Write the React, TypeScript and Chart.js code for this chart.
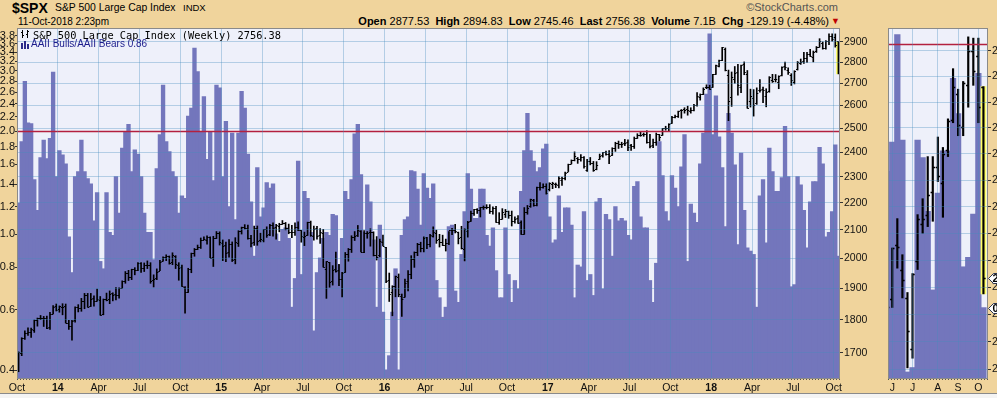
import React, { useEffect, useRef } from "react";
import { Chart, registerables } from "chart.js";

Chart.register(...registerables);

// ---------------- DATA ----------------
// weekly bars, first bar = week of Monday 2013-10-07
const START_MONDAY = "2013-10-07";

// AAII Bulls / AAII Bears ratio (weekly)
const ratio: number[] = [
  1.23, 1.86, 2.79, 2.11, 2.10, 1.44, 1.17, 1.67, 1.88, 1.66,
  1.90, 2.97, 1.47, 1.75, 1.70, 1.60, 0.98, 0.77, 1.47, 1.52,
  1.88, 1.52, 1.45, 1.40, 1.09, 1.32, 0.83, 0.79, 1.32, 1.01,
  0.99, 1.47, 1.15, 1.78, 1.99, 2.09, 1.52, 1.76, 1.71, 1.47,
  1.15, 1.01, 1.01, 0.84, 1.55, 1.95, 2.72, 1.86, 1.74, 1.52,
  1.47, 1.15, 1.29, 1.27, 2.21, 2.33, 3.49, 2.98, 1.99, 2.52,
  1.65, 1.99, 1.43, 2.72, 2.67, 1.47, 2.13, 1.20, 1.97, 1.10,
  1.97, 2.61, 2.33, 1.71, 1.24, 0.86, 1.56, 1.12, 1.19, 1.41,
  1.36, 1.40, 1.00, 0.95, 1.03, 1.04, 0.97, 0.61, 0.74, 1.63,
  0.76, 1.33, 1.27, 1.01, 0.52, 0.77, 0.85, 0.97, 1.01, 0.99,
  1.14, 1.13, 0.81, 0.97, 1.33, 1.26, 1.44, 1.96, 2.09, 1.49,
  1.01, 1.39, 1.24, 0.96, 0.61, 1.06, 0.59, 0.40, 0.44, 0.59,
  0.79, 0.40, 0.99, 1.10, 1.12, 1.53, 1.52, 1.35, 1.06, 1.50,
  1.36, 1.27, 1.40, 0.73, 0.65, 0.57, 0.61, 1.05, 1.06, 0.68,
  0.63, 0.87, 1.16, 1.50, 1.35, 1.11, 1.11, 1.35, 1.35, 0.99,
  0.92, 1.04, 0.78, 0.65, 0.65, 1.04, 0.76, 0.63, 0.73, 0.69,
  1.33, 1.75, 2.25, 1.75, 1.63, 1.52, 1.56, 1.77, 1.83, 1.12,
  0.94, 0.96, 1.29, 1.01, 1.19, 1.19, 1.06, 0.65, 0.81, 0.80,
  1.16, 0.73, 0.76, 0.66, 1.24, 1.27, 0.69, 1.14, 1.10, 0.86,
  1.20, 1.09, 1.11, 1.09, 0.99, 0.96, 1.375, 1.42, 1.12, 1.04,
  1.04, 0.73, 0.63, 0.82, 1.86, 1.48, 1.16, 1.09, 1.48, 1.36,
  1.20, 1.57, 1.95, 0.83, 1.22, 1.15, 1.08, 1.60, 1.97, 2.56,
  3.84, 1.95, 2.53, 1.92, 1.56, 1.05, 2.25, 1.97, 1.59, 0.93,
  1.72, 1.17, 0.91, 0.89, 0.87, 0.61, 1.29, 1.44, 0.94, 1.78,
  1.52, 1.33, 1.33, 1.46, 2.06, 1.47, 0.70, 0.71, 1.47, 1.39,
  1.17, 0.91, 1.24, 1.42, 1.42, 1.79, 1.60, 0.98, 1.01, 1.16,
  1.82, 0.86,
];

// S&P 500 weekly OHLC
const spxOpen: number[] = [
  1687, 1700, 1745, 1759, 1763, 1769, 1798, 1804, 1806, 1806,
  1776, 1819, 1842, 1832, 1841, 1842, 1791, 1782, 1798, 1838,
  1836, 1857, 1878, 1842, 1867, 1858, 1863, 1816, 1865, 1864,
  1884, 1880, 1878, 1902, 1924, 1950, 1937, 1962, 1960, 1984,
  1967, 1977, 1978, 1926, 1934, 1958, 1991, 2004, 2007, 1986,
  2009, 1978, 1970, 1905, 1886, 1962, 2019, 2032, 2039, 2065,
  2065, 2074, 2005, 2070, 2088, 2054, 2046, 2020, 2050, 1996,
  2053, 2096, 2109, 2105, 2072, 2055, 2108, 2065, 2065, 2102,
  2084, 2119, 2110, 2115, 2122, 2125, 2108, 2093, 2091, 2112,
  2098, 2074, 2080, 2127, 2078, 2105, 2080, 2090, 1965, 1986,
  1923, 1963, 1960, 1929, 1954, 2015, 2033, 2076, 2080, 2097,
  2023, 2090, 2091, 2091, 2013, 2010, 2058, 2038, 1927, 1889,
  1906, 1937, 1873, 1871, 1924, 1946, 1996, 2020, 2049, 2037,
  2073, 2050, 2078, 2090, 2067, 2057, 2046, 2052, 2100, 2100,
  2092, 2075, 2031, 2096, 2131, 2162, 2175, 2173, 2183, 2184,
  2183, 2170, 2181, 2128, 2140, 2158, 2168, 2154, 2133, 2142,
  2129, 2086, 2165, 2187, 2210, 2191, 2259, 2260, 2263, 2251,
  2273, 2272, 2267, 2286, 2295, 2321, 2352, 2367, 2375, 2372,
  2379, 2329, 2362, 2357, 2332, 2370, 2388, 2399, 2393, 2387,
  2415, 2437, 2432, 2437, 2440, 2431, 2424, 2459, 2473, 2475,
  2476, 2441, 2428, 2442, 2474, 2470, 2500, 2503, 2521, 2551,
  2555, 2578, 2584, 2584, 2576, 2579, 2603, 2639, 2653, 2685,
  2684, 2684, 2745, 2784, 2809, 2867, 2741, 2636, 2722, 2754,
  2682, 2790, 2746, 2619, 2633, 2611, 2670, 2675, 2643, 2665,
  2718, 2723, 2706, 2741, 2781, 2763, 2742, 2705, 2769, 2797,
  2804, 2821, 2840, 2828, 2853, 2876, 2896, 2871, 2903, 2930,
  2926, 2902,
];
const spxHigh: number[] = [
  1703, 1745, 1766, 1775, 1774, 1799, 1805, 1813, 1810, 1811,
  1823, 1844, 1849, 1843, 1850, 1849, 1798, 1798, 1840, 1847,
  1867, 1883, 1883, 1883, 1875, 1897, 1873, 1865, 1884, 1891,
  1885, 1902, 1901, 1924, 1955, 1959, 1963, 1968, 1985, 1985,
  1984, 1991, 1985, 1944, 1964, 1993, 2005, 2012, 2008, 2019,
  2009, 1985, 1977, 1905, 1966, 2018, 2034, 2046, 2071, 2075,
  2079, 2075, 2077, 2094, 2093, 2064, 2056, 2065, 2057, 2072,
  2097, 2110, 2119, 2117, 2080, 2114, 2114, 2088, 2102, 2111,
  2120, 2126, 2120, 2124, 2134, 2127, 2121, 2116, 2126, 2129,
  2098, 2092, 2128, 2132, 2114, 2113, 2105, 2102, 1989, 1986,
  1975, 2021, 1979, 1952, 2020, 2034, 2079, 2094, 2116, 2097,
  2097, 2094, 2104, 2093, 2076, 2067, 2081, 2038, 1950, 1908,
  1940, 1947, 1881, 1930, 1958, 2009, 2022, 2052, 2056, 2075,
  2073, 2084, 2111, 2099, 2084, 2081, 2067, 2094, 2106, 2120,
  2092, 2113, 2104, 2131, 2169, 2175, 2178, 2183, 2188, 2193,
  2193, 2185, 2187, 2163, 2178, 2175, 2169, 2169, 2148, 2152,
  2133, 2182, 2190, 2214, 2213, 2260, 2278, 2273, 2273, 2277,
  2279, 2276, 2301, 2299, 2319, 2351, 2368, 2401, 2378, 2390,
  2382, 2370, 2378, 2362, 2361, 2392, 2399, 2404, 2406, 2418,
  2441, 2446, 2441, 2453, 2451, 2432, 2463, 2477, 2484, 2480,
  2490, 2474, 2454, 2480, 2474, 2500, 2509, 2520, 2552, 2557,
  2575, 2582, 2590, 2597, 2590, 2605, 2658, 2652, 2680, 2694,
  2692, 2743, 2787, 2811, 2873, 2870, 2763, 2754, 2780, 2790,
  2787, 2802, 2761, 2674, 2672, 2680, 2718, 2683, 2676, 2732,
  2743, 2742, 2736, 2779, 2801, 2774, 2746, 2760, 2804, 2816,
  2848, 2848, 2863, 2855, 2877, 2916, 2900, 2906, 2941, 2940,
  2940, 2902,
];
const spxLow: number[] = [
  1646, 1692, 1740, 1752, 1746, 1761, 1780, 1800, 1779, 1772,
  1770, 1818, 1827, 1823, 1815, 1790, 1770, 1738, 1792, 1824,
  1826, 1834, 1839, 1841, 1842, 1858, 1814, 1815, 1859, 1850,
  1859, 1862, 1868, 1900, 1916, 1925, 1928, 1944, 1958, 1952,
  1955, 1965, 1916, 1904, 1928, 1958, 1990, 1992, 1980, 1978,
  1965, 1926, 1906, 1820, 1886, 1951, 2007, 2030, 2034, 2064,
  2049, 2002, 1972, 2069, 2046, 1992, 1988, 2004, 1989, 1981,
  2041, 2085, 2103, 2067, 2039, 2045, 2045, 2057, 2057, 2073,
  2079, 2077, 2067, 2093, 2120, 2100, 2086, 2072, 2080, 2097,
  2056, 2044, 2080, 2077, 2063, 2067, 2052, 1970, 1867, 1903,
  1910, 1953, 1908, 1872, 1952, 1990, 2020, 2062, 2076, 2022,
  2019, 2070, 2042, 2008, 1994, 2005, 2043, 1918, 1857, 1812,
  1872, 1872, 1810, 1871, 1891, 1931, 1969, 2009, 2022, 2022,
  2033, 2039, 2074, 2052, 2039, 2044, 2025, 2047, 2083, 2089,
  2050, 2032, 1991, 2074, 2131, 2153, 2160, 2147, 2175, 2177,
  2160, 2157, 2127, 2120, 2139, 2145, 2142, 2114, 2124, 2123,
  2084, 2084, 2157, 2183, 2187, 2188, 2248, 2256, 2233, 2245,
  2254, 2258, 2257, 2267, 2288, 2321, 2352, 2364, 2354, 2363,
  2335, 2322, 2348, 2322, 2328, 2370, 2379, 2387, 2353, 2386,
  2403, 2415, 2419, 2427, 2406, 2407, 2415, 2457, 2466, 2466,
  2437, 2417, 2418, 2428, 2447, 2470, 2492, 2488, 2521, 2545,
  2547, 2544, 2566, 2557, 2566, 2576, 2597, 2624, 2649, 2676,
  2673, 2682, 2743, 2778, 2808, 2759, 2533, 2596, 2701, 2647,
  2658, 2741, 2588, 2593, 2553, 2605, 2660, 2613, 2594, 2660,
  2705, 2707, 2676, 2735, 2764, 2742, 2691, 2698, 2763, 2790,
  2795, 2799, 2829, 2802, 2848, 2874, 2864, 2864, 2886, 2903,
  2874, 2745,
];
const spxClose: number[] = [
  1703, 1744, 1759, 1762, 1770, 1798, 1804, 1806, 1805, 1775,
  1818, 1841, 1831, 1842, 1838, 1790, 1782, 1797, 1838, 1836,
  1859, 1878, 1841, 1866, 1857, 1865, 1815, 1864, 1863, 1881,
  1878, 1878, 1900, 1924, 1950, 1937, 1963, 1961, 1985, 1968,
  1978, 1978, 1925, 1931, 1955, 1988, 2003, 2007, 1985, 2010,
  1982, 1968, 1906, 1887, 1964, 2018, 2032, 2039, 2063, 2068,
  2075, 2002, 2070, 2088, 2058, 2044, 2019, 2051, 1995, 2055,
  2097, 2110, 2105, 2071, 2053, 2108, 2061, 2067, 2102, 2081,
  2117, 2108, 2116, 2122, 2126, 2107, 2092, 2094, 2110, 2101,
  2077, 2077, 2127, 2080, 2104, 2078, 2092, 1971, 1989, 1921,
  1961, 1958, 1931, 1951, 2014, 2033, 2075, 2079, 2099, 2023,
  2089, 2090, 2092, 2012, 2006, 2061, 2044, 1922, 1880, 1907,
  1940, 1880, 1865, 1918, 1948, 1999, 2022, 2049, 2035, 2072,
  2048, 2080, 2091, 2065, 2057, 2047, 2053, 2099, 2099, 2096,
  2071, 2037, 2103, 2130, 2162, 2175, 2173, 2183, 2184, 2184,
  2169, 2180, 2128, 2139, 2165, 2168, 2153, 2133, 2141, 2126,
  2085, 2164, 2182, 2213, 2192, 2260, 2259, 2263, 2239, 2277,
  2275, 2271, 2295, 2297, 2316, 2351, 2367, 2383, 2373, 2378,
  2344, 2363, 2355, 2329, 2349, 2384, 2399, 2391, 2382, 2416,
  2439, 2432, 2433, 2438, 2423, 2425, 2459, 2472, 2472, 2476,
  2441, 2426, 2443, 2477, 2461, 2500, 2502, 2519, 2549, 2553,
  2575, 2581, 2582, 2582, 2578, 2602, 2642, 2652, 2676, 2684,
  2674, 2743, 2786, 2810, 2873, 2762, 2620, 2732, 2747, 2691,
  2786, 2752, 2588, 2641, 2604, 2656, 2670, 2670, 2663, 2728,
  2713, 2721, 2735, 2779, 2780, 2755, 2718, 2760, 2801, 2801,
  2819, 2840, 2833, 2850, 2875, 2902, 2872, 2905, 2930, 2914,
  2886, 2756.38,
];

// axis ticks / labels
const mainTickMonths = [
  "2013-10", "2014-01", "2014-04", "2014-07", "2014-10", "2015-01", "2015-04",
  "2015-07", "2015-10", "2016-01", "2016-04", "2016-07", "2016-10", "2017-01",
  "2017-04", "2017-07", "2017-10", "2018-01", "2018-04", "2018-07", "2018-10",
];
const mainTickLabels = [
  "Oct", "14", "Apr", "Jul", "Oct", "15", "Apr", "Jul", "Oct", "16", "Apr",
  "Jul", "Oct", "17", "Apr", "Jul", "Oct", "18", "Apr", "Jul", "Oct",
];
const panelTickMonths = ["2018-06", "2018-07", "2018-08", "2018-09", "2018-10"];
const panelTickLabels = ["J", "J", "A", "S", "O"];
const ratioTicks = [0.4, 0.6, 0.8, 1.0, 1.2, 1.4, 1.6, 1.8, 2.0, 2.2, 2.4, 2.6, 2.8, 3.0, 3.2, 3.4, 3.6, 3.8];
const spxTicks = [1700, 1800, 1900, 2000, 2100, 2200, 2300, 2400, 2500, 2600, 2700, 2800, 2900];
const panelSpxTicks = [
  2690, 2700, 2710, 2720, 2730, 2740, 2750, 2760, 2770, 2780, 2790, 2800, 2810,
  2820, 2830, 2840, 2850, 2860, 2870, 2880, 2890, 2900, 2910, 2920, 2930, 2940,
];
const REF_LEVEL = 2.0;

// view ranges
const MAIN_RATIO_RANGE = [0.3767, 4.003];
const MAIN_SPX_RANGE = [1625.6, 2970];
const PANEL_X_RANGE = [242.16, 261.9];
const PANEL_RATIO_RANGE = [0.685, 2.105];
const PANEL_SPX_RANGE = [2683, 2948];

// ---------------- STYLE ----------------
const FONT = '"Liberation Sans", Arial, sans-serif';
const TAN = "#F0D49C";
const PLOT_BG = "#EEF0FA";
const BAR = "#7376BC";
const GRID = "rgba(70,140,190,0.35)";
const RED = "#B3203F";
const YELLOW = "#FFFF66";

const WEEK_MS = 7 * 864e5;
const startMs = Date.parse(START_MONDAY + "T00:00:00Z");
const firstWeekOfMonth = (ym: string) =>
  Math.ceil((Date.parse(ym + "-01T00:00:00Z") - startMs) / WEEK_MS);

function buildDatasets(hlThickness: number, highlightWidth: number) {
  const last = ratio.length - 1;
  return [
    {
      type: "bar",
      label: "AAII Bulls/AAII Bears",
      data: ratio.map((v, i) => ({ x: i, y: v })),
      yAxisID: "y",
      backgroundColor: BAR,
      borderWidth: 0,
      inflateAmount: 0.6,
      barPercentage: 1,
      categoryPercentage: 1,
      grouped: false,
      order: 3,
      clip: 0,
    },
    {
      type: "bar",
      label: "last week",
      data: [{ x: last, y: [spxLow[last], spxHigh[last]] }],
      yAxisID: "y2",
      backgroundColor: YELLOW,
      barThickness: highlightWidth,
      grouped: false,
      order: 2,
      clip: 0,
    },
    {
      type: "bar",
      label: "S&P 500 Large Cap Index (Weekly)",
      data: spxClose.map((_, i) => ({ x: i, y: [spxLow[i], spxHigh[i]] })),
      yAxisID: "y2",
      backgroundColor: "#000",
      barThickness: hlThickness,
      grouped: false,
      order: 1,
      clip: 0,
    },
  ];
}

function makeOverlay(tickLen: number, lw: number, withTags: boolean) {
  return {
    id: "overlay",
    beforeDraw(chart: any) {
      const { ctx, chartArea: a } = chart;
      ctx.save();
      ctx.fillStyle = PLOT_BG;
      ctx.fillRect(a.left, a.top, a.right - a.left, a.bottom - a.top);
      ctx.restore();
    },
    afterDatasetsDraw(chart: any) {
      const { ctx, chartArea: a, scales } = chart;
      const xs = scales.x, yr = scales.y, ys = scales.y2;
      ctx.save();
      ctx.beginPath();
      ctx.rect(a.left, a.top, a.right - a.left, a.bottom - a.top);
      ctx.clip();
      // reference line
      const yRef = Math.round(yr.getPixelForValue(REF_LEVEL)) + 0.5;
      ctx.strokeStyle = RED;
      ctx.lineWidth = 1.3;
      ctx.beginPath();
      ctx.moveTo(a.left, yRef);
      ctx.lineTo(a.right, yRef);
      ctx.stroke();
      // open / close ticks
      ctx.strokeStyle = "#000";
      ctx.lineWidth = lw;
      ctx.beginPath();
      for (let i = 0; i < spxClose.length; i++) {
        const px = xs.getPixelForValue(i);
        if (px < a.left - 6 || px > a.right + 6) continue;
        const yo = Math.round(ys.getPixelForValue(spxOpen[i])) + 0.5;
        const yc = Math.round(ys.getPixelForValue(spxClose[i])) + 0.5;
        ctx.moveTo(px - tickLen, yo);
        ctx.lineTo(px, yo);
        ctx.moveTo(px, yc);
        ctx.lineTo(px + tickLen, yc);
      }
      ctx.stroke();
      ctx.restore();
    },
    afterDraw(chart: any) {
      const { ctx, chartArea: a, scales } = chart;
      ctx.save();
      ctx.strokeStyle = "#8a8a8a";
      ctx.lineWidth = 1;
      ctx.strokeRect(a.left + 0.5, a.top + 0.5, a.right - a.left - 1, a.bottom - a.top - 1);
      ctx.strokeStyle = "#555";
      ctx.setLineDash([1, 2]);
      ctx.beginPath();
      ctx.moveTo(a.left, a.bottom + 0.5);
      ctx.lineTo(a.right, a.bottom + 0.5);
      ctx.stroke();
      ctx.setLineDash([]);
      if (withTags) {
        const last = ratio.length - 1;
        const items = [
          { y: scales.y2.getPixelForValue(spxClose[last]), text: spxClose[last].toFixed(2) },
          { y: scales.y.getPixelForValue(ratio[last]), text: ratio[last].toFixed(2) },
        ];
        for (const it of items) {
          const x0 = a.right + 0.5;
          const y = Math.round(it.y) + 0.5;
          const h = 5;
          ctx.beginPath();
          ctx.moveTo(x0, y);
          ctx.lineTo(x0 + 5, y - h);
          ctx.lineTo(x0 + 60, y - h);
          ctx.lineTo(x0 + 60, y + h);
          ctx.lineTo(x0 + 5, y + h);
          ctx.closePath();
          ctx.fillStyle = "#fff";
          ctx.fill();
          ctx.strokeStyle = "#2a3450";
          ctx.lineWidth = 1;
          ctx.stroke();
          ctx.fillStyle = "#000";
          ctx.font = "bold 11px " + FONT;
          ctx.textBaseline = "middle";
          ctx.textAlign = "left";
          ctx.fillText(it.text, x0 + 4, y + 0.5);
        }
      }
      ctx.restore();
    },
  };
}

function mainConfig(): any {
  const tickPos = mainTickMonths.map((m) => firstWeekOfMonth(m) - 0.5);
  return {
    type: "bar",
    data: { datasets: buildDatasets(1, 4) },
    plugins: [makeOverlay(1.6, 1, false)],
    options: {
      responsive: false,
      maintainAspectRatio: false,
      animation: false,
      events: [],
      layout: { padding: { top: 28, left: 0, right: 0, bottom: 0 } },
      plugins: { legend: { display: false }, tooltip: { enabled: false } },
      scales: {
        x: {
          type: "linear",
          min: -0.5,
          max: ratio.length - 0.5,
          offset: false,
          bounds: "data",
          grid: { color: GRID, drawTicks: false, offset: false, z: 1 },
          border: { display: false },
          ticks: {
            autoSkip: false,
            maxRotation: 0,
            padding: 3,
            color: "#111",
            font: (ctx: any) => ({
              family: FONT,
              size: 10.5,
              weight: /^\d+$/.test(mainTickLabels[ctx.index] || "") ? "bold" : "normal",
            }),
            callback: (_v: any, i: number) => mainTickLabels[i],
          },
          afterBuildTicks: (s: any) => {
            s.ticks = tickPos.map((v) => ({ value: v }));
          },
          afterFit: (s: any) => {
            s.height = 19;
          },
        },
        y: {
          type: "logarithmic",
          position: "left",
          min: MAIN_RATIO_RANGE[0],
          max: MAIN_RATIO_RANGE[1],
          grid: { drawOnChartArea: false, drawTicks: true, tickLength: 2, tickColor: "#333" },
          border: { display: false },
          ticks: {
            padding: 0,
            color: "#111",
            font: { family: FONT, size: 11 },
            callback: (v: any) => Number(v).toFixed(1),
          },
          afterBuildTicks: (s: any) => {
            s.ticks = ratioTicks.map((v) => ({ value: v }));
          },
          afterFit: (s: any) => {
            s.width = 17;
          },
        },
        y2: {
          type: "logarithmic",
          position: "right",
          min: MAIN_SPX_RANGE[0],
          max: MAIN_SPX_RANGE[1],
          grid: { color: GRID, drawTicks: true, tickLength: 3, tickColor: "#333", z: 1 },
          border: { display: false },
          ticks: {
            padding: 1,
            color: "#111",
            font: { family: FONT, size: 10.5 },
            callback: (v: any) => String(v),
          },
          afterBuildTicks: (s: any) => {
            s.ticks = spxTicks.map((v) => ({ value: v }));
          },
          afterFit: (s: any) => {
            s.width = 45;
          },
        },
      },
    },
  };
}

function panelConfig(): any {
  const tickPos = panelTickMonths.map((m) => firstWeekOfMonth(m));
  return {
    type: "bar",
    data: { datasets: buildDatasets(1.5, 5) },
    plugins: [makeOverlay(2.2, 1.3, true)],
    options: {
      responsive: false,
      maintainAspectRatio: false,
      animation: false,
      events: [],
      layout: { padding: { top: 28, left: 3, right: 0, bottom: 0 } },
      plugins: { legend: { display: false }, tooltip: { enabled: false } },
      scales: {
        x: {
          type: "linear",
          min: PANEL_X_RANGE[0],
          max: PANEL_X_RANGE[1],
          offset: false,
          bounds: "data",
          grid: { color: GRID, drawTicks: false, offset: false, z: 1 },
          border: { display: false },
          ticks: {
            autoSkip: false,
            maxRotation: 0,
            padding: 3,
            color: "#111",
            font: { family: FONT, size: 10.5 },
            callback: (_v: any, i: number) => panelTickLabels[i],
          },
          afterBuildTicks: (s: any) => {
            s.ticks = tickPos.map((v) => ({ value: v }));
          },
          afterFit: (s: any) => {
            s.height = 19;
          },
        },
        y: {
          type: "logarithmic",
          position: "left",
          display: false,
          min: PANEL_RATIO_RANGE[0],
          max: PANEL_RATIO_RANGE[1],
        },
        y2: {
          type: "logarithmic",
          position: "right",
          min: PANEL_SPX_RANGE[0],
          max: PANEL_SPX_RANGE[1],
          grid: { color: GRID, drawTicks: true, tickLength: 3, tickColor: "#333", z: 1 },
          border: { display: false },
          ticks: {
            padding: 1,
            color: "#111",
            font: { family: FONT, size: 10.5 },
            callback: (v: any) => String(v),
          },
          afterBuildTicks: (s: any) => {
            s.ticks = panelSpxTicks.map((v) => ({ value: v }));
          },
          afterFit: (s: any) => {
            s.width = 42;
          },
        },
      },
    },
  };
}

const abs = (o: any): any => ({ position: "absolute", whiteSpace: "pre", margin: 0, ...o });

export default function App() {
  const mainRef = useRef<HTMLCanvasElement>(null);
  const panelRef = useRef<HTMLCanvasElement>(null);

  useEffect(() => {
    const c1 = new Chart(mainRef.current as HTMLCanvasElement, mainConfig());
    const c2 = new Chart(panelRef.current as HTMLCanvasElement, panelConfig());
    return () => {
      c1.destroy();
      c2.destroy();
    };
  }, []);

  return (
    <div style={{ position: "fixed", left: 0, top: 0, width: 997, height: 398, overflow: "hidden", background: "#f4f4f4" }}>
      <div style={abs({ left: 0, top: 0, width: 997, height: 393, background: TAN, borderBottom: "1px solid #8a8a8a" })} />

      <div style={abs({ left: 12, top: 1, font: `bold 14px ${FONT}`, lineHeight: "14px", color: "#000" })}>$SPX</div>
      <div style={abs({ left: 55, top: 2.6, font: `10.4px ${FONT}`, lineHeight: "10.4px", color: "#000" })}>S&amp;P 500 Large Cap Index</div>
      <div style={abs({ left: 183, top: 3.3, font: `9.5px ${FONT}`, lineHeight: "9.5px", color: "#000" })}>INDX</div>
      <div style={abs({ left: 18, top: 16.5, font: `10px ${FONT}`, lineHeight: "10px", color: "#000" })}>11-Oct-2018 2:23pm</div>
      <div style={abs({ right: 159, top: 2.4, font: `11px ${FONT}`, lineHeight: "11px", color: "#555" })}>©StockCharts.com</div>
      <div style={abs({ right: 168, top: 15.7, font: `11px ${FONT}`, lineHeight: "11px", color: "#000" })}>
        <b>Open</b> 2877.53  <b>High</b> 2894.83  <b>Low</b> 2745.46  <b>Last</b> 2756.38  <b>Volume</b> 7.1B  <b>Chg</b> -129.19 (-4.48%)
      </div>
      <div style={abs({ left: 831, top: 17, font: `9px ${FONT}`, lineHeight: "9px", color: "#C00000" })}>▼</div>

      <div style={abs({ left: 0, top: 0, width: 885, height: 398 })}>
        <canvas ref={mainRef} width={885} height={398} style={{ display: "block" }} />
      </div>
      <div style={abs({ left: 885, top: 0, width: 145, height: 398 })}>
        <canvas ref={panelRef} width={145} height={398} style={{ display: "block" }} />
      </div>

      <svg style={abs({ left: 20, top: 29 })} width="11" height="10">
        <path d="M2.5 1 V9 M1 3.5 H2.5 M2.5 6.5 H4 M7.5 1 V9 M6 5.5 H7.5 M7.5 2.5 H9" stroke="#000" strokeWidth="1" fill="none" />
      </svg>
      <div style={abs({ left: 33, top: 29.6, font: `10.3px "DejaVu Sans Mono", monospace`, lineHeight: "10.3px", color: "#000" })}>
        S&amp;P 500 Large Cap Index (Weekly) 2756.38
      </div>
      <svg style={abs({ left: 20, top: 40 })} width="11" height="9">
        <path d="M1 3 H3 V9 H1 Z M4 1 H6 V9 H4 Z M7 4 H9 V9 H7 Z" fill="#2a2a8a" />
      </svg>
      <div style={abs({ left: 31, top: 39.2, font: `10px ${FONT}`, lineHeight: "10px", color: "#1c1c8c" })}>
        AAII Bulls/AAII Bears 0.86
      </div>
    </div>
  );
}
